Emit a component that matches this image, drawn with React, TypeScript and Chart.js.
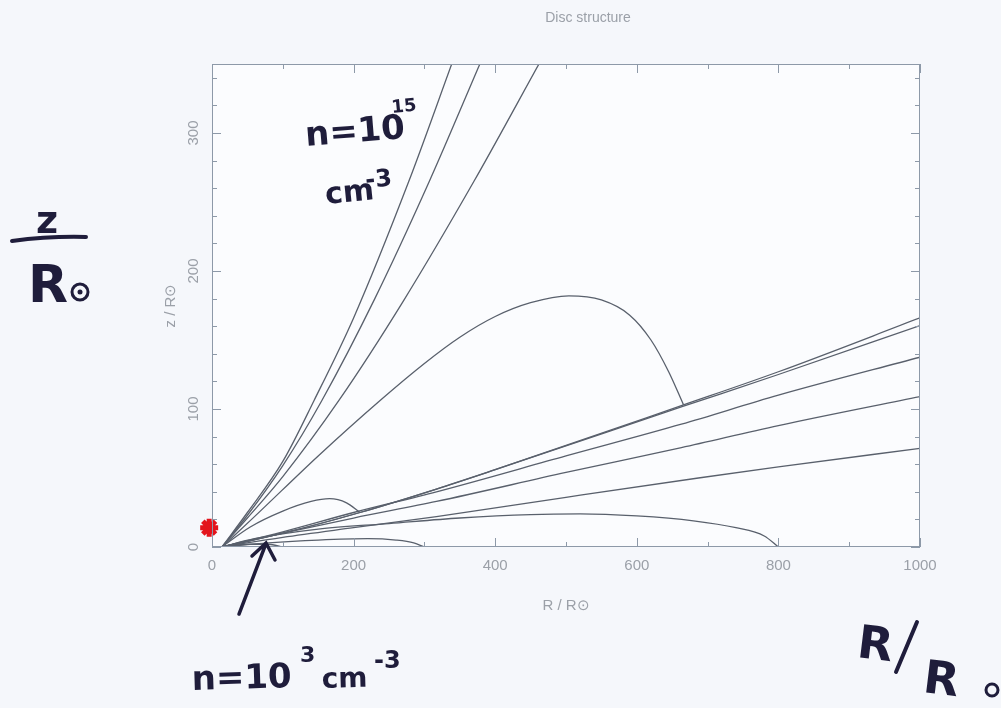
import { useEffect, useRef } from "react";
import { Chart, registerables } from "chart.js";

Chart.register(...registerables);

// ---- axis ticks ----
const xTickValues = [0, 200, 400, 600, 800, 1000];
const xMinorTicks = [100, 300, 500, 700, 900];
const yTickValues = [0, 100, 200, 300];
const yMinorTicks = [20, 40, 60, 80, 120, 140, 160, 180, 220, 240, 260, 280, 320, 340];

// ---- contour curves (R / Rsun, z / Rsun) ----
const steep1: [number, number][] = [[14, 0], [50, 25], [100, 62], [144, 106], [200, 166], [278, 265], [340, 352]];
const steep2: [number, number][] = [[14, 0], [50, 23], [100, 59], [155, 106], [230, 180], [307, 265], [380, 352]];
const steep3: [number, number][] = [[14, 0], [50, 21], [100, 51], [179, 106], [270, 178], [370, 265], [465, 353]];
const bigDome: [number, number][] = [[14, 0], [60, 22], [150, 66], [237, 106], [300, 133], [350, 152], [400, 167], [450, 177], [504, 182], [550, 179], [590, 168], [620, 150], [645, 127], [666, 103]];
const fan1: [number, number][] = [[14, 0], [100, 10], [209, 25], [317, 42], [400, 56], [666, 103], [800, 127], [1000, 166]];
const fan2: [number, number][] = [[14, 0], [100, 10], [209, 25], [317, 42], [400, 56], [666, 102], [800, 125], [1000, 160.5]];
const fan3: [number, number][] = [[14, 0], [100, 11], [200, 25], [317, 40], [500, 66], [663, 89], [800, 110], [1000, 137.5]];
const fan4: [number, number][] = [[14, 0], [100, 10], [200, 21], [317, 33], [500, 54], [663, 72], [800, 88], [1000, 109]];
const fan5: [number, number][] = [[14, 0], [100, 7], [200, 14], [317, 22], [500, 36], [687, 50], [800, 58], [1000, 71.5]];
const smallDome: [number, number][] = [[14, 0], [54, 14.5], [100, 26], [140, 33], [166, 35], [190, 32], [209, 25]];
const lowDome: [number, number][] = [[14, 0], [60, 6], [150, 13], [250, 17], [350, 21], [450, 23.5], [520, 24], [600, 22.5], [680, 19], [740, 14], [780, 8], [800, 0]];
const shallowDome: [number, number][] = [[14, 0], [80, 3], [150, 5], [220, 6], [260, 5], [285, 3], [300, 0]];
const tinyDome: [number, number][] = [[14, 0], [50, 2], [80, 2], [100, 0]];
const starPoint: [number, number][] = [[-4, 14]];

const curves = [steep1, steep2, steep3, bigDome, fan1, fan2, fan3, fan4, fan5, smallDome, lowDome, shallowDome, tinyDome];

const chartTitle = "Disc structure";
const xTitle = "R / R\u2299";
const yTitle = "z / R\u2299";

const LINE = "#59606c";
const GREY = "#9ba0a8";
const FRAME = "#8d99a8";
const INK = "#1f1d3b";
const FONT = "'Liberation Sans', Arial, sans-serif";

function toXY(arr: [number, number][]) {
  return arr.map(([x, y]) => ({ x, y }));
}

const framePlugin = {
  id: "frameAndNotes",
  beforeDraw(chart: any) {
    const { ctx, width, height, chartArea } = chart;
    ctx.save();
    ctx.fillStyle = "#f5f7fb";
    ctx.fillRect(0, 0, width, height);
    ctx.fillStyle = "#fbfcfe";
    ctx.fillRect(chartArea.left, chartArea.top, chartArea.right - chartArea.left, chartArea.bottom - chartArea.top);
    ctx.restore();
  },
  afterDraw(chart: any) {
    const { ctx, chartArea } = chart;
    const xs = chart.scales.x;
    const ys = chart.scales.y;
    const { left, right, top, bottom } = chartArea;
    ctx.save();
    // title
    ctx.fillStyle = GREY;
    ctx.font = `14px ${FONT}`;
    ctx.textAlign = "center";
    ctx.textBaseline = "middle";
    ctx.fillText(chartTitle, 588, 18);
    // frame
    ctx.strokeStyle = FRAME;
    ctx.lineWidth = 1;
    ctx.strokeRect(left + 0.5, top + 0.5, right - left - 1, bottom - top - 1);
    const tick = (v: number, len: number, horiz: boolean) => {
      if (horiz) {
        const px = Math.round(xs.getPixelForValue(v)) + 0.5;
        ctx.beginPath();
        ctx.moveTo(px, bottom);
        ctx.lineTo(px, bottom - len);
        ctx.moveTo(px, top);
        ctx.lineTo(px, top + len);
        ctx.stroke();
      } else {
        const py = Math.round(ys.getPixelForValue(v)) + 0.5;
        ctx.beginPath();
        ctx.moveTo(left, py);
        ctx.lineTo(left + len, py);
        ctx.moveTo(right, py);
        ctx.lineTo(right - len, py);
        ctx.stroke();
      }
    };
    xTickValues.forEach((v) => tick(v, 9, true));
    xMinorTicks.forEach((v) => tick(v, 5, true));
    yTickValues.forEach((v) => tick(v, 9, false));
    yMinorTicks.forEach((v) => tick(v, 5, false));
    ctx.restore();

    // handwritten annotations
    ctx.save();
    ctx.fillStyle = INK;
    ctx.strokeStyle = INK;
    ctx.textBaseline = "alphabetic";
    const txt = (s: string, x: number, y: number, size: number, rot = 0) => {
      ctx.save();
      ctx.translate(x, y);
      ctx.rotate(rot);
      ctx.font = `bold ${size}px "DejaVu Sans"`;
      ctx.fillText(s, 0, 0);
      ctx.restore();
    };
    // left: z / R_sun
    txt("z", 36, 233, 38);
    ctx.lineWidth = 4;
    ctx.lineCap = "round";
    ctx.beginPath();
    ctx.moveTo(12, 241);
    ctx.quadraticCurveTo(50, 236, 86, 237);
    ctx.stroke();
    txt("R", 28, 302, 52);
    ctx.lineWidth = 3;
    ctx.beginPath();
    ctx.arc(80, 292, 8, 0, Math.PI * 2);
    ctx.stroke();
    ctx.beginPath();
    ctx.arc(80, 292, 2.5, 0, Math.PI * 2);
    ctx.fill();
    // top: n = 10^15 cm^-3
    txt("n=10", 306, 146, 34, -0.08);
    txt("15", 392, 113, 18, -0.1);
    txt("cm", 326, 204, 30, -0.1);
    txt("-3", 366, 188, 24, -0.1);
    // bottom: n = 10^3 cm^-3
    txt("n=10", 192, 690, 34, -0.03);
    txt("3", 300, 662, 22, 0);
    txt("cm", 322, 688, 28, -0.03);
    txt("-3", 374, 668, 24, 0);
    // arrow
    ctx.lineWidth = 3.5;
    ctx.beginPath();
    ctx.moveTo(239, 614);
    ctx.lineTo(265, 546);
    ctx.moveTo(252, 556);
    ctx.lineTo(266, 543);
    ctx.lineTo(275, 560);
    ctx.stroke();
    // bottom right: R / R_sun
    txt("R", 856, 657, 46, 0.12);
    ctx.lineWidth = 4;
    ctx.beginPath();
    ctx.moveTo(917, 622);
    ctx.lineTo(896, 672);
    ctx.stroke();
    txt("R", 922, 692, 46, 0.12);
    ctx.lineWidth = 3;
    ctx.beginPath();
    ctx.arc(992, 690, 6, 0, Math.PI * 2);
    ctx.stroke();
    ctx.restore();
  },
};

export default function App() {
  const ref = useRef<HTMLCanvasElement | null>(null);
  useEffect(() => {
    if (!ref.current) return;
    const datasets: any[] = curves.map((c) => ({
      data: toXY(c),
      showLine: true,
      borderColor: LINE,
      borderWidth: 1.3,
      pointRadius: 0,
      cubicInterpolationMode: "monotone",
      fill: false,
    }));
    datasets.push({
      data: toXY(starPoint),
      showLine: false,
      pointStyle: "star",
      pointRadius: 9,
      borderColor: "#e3141c",
      backgroundColor: "#e3141c",
      pointBorderWidth: 5,
      clip: false,
    });
    const chart = new Chart(ref.current, {
      type: "scatter",
      data: { datasets },
      options: {
        animation: false,
        responsive: false,
        devicePixelRatio: 1,
        layout: { padding: { left: 140, right: 81, top: 64, bottom: 0 } },
        plugins: {
          legend: { display: false },
          tooltip: { enabled: false },
          title: { display: false },
        },
        scales: {
          x: {
            type: "linear",
            min: 0,
            max: 1000,
            afterBuildTicks: (s: any) => {
              s.ticks = xTickValues.map((v) => ({ value: v }));
            },
            afterFit: (s: any) => {
              s.height = 161;
            },
            grid: { display: false, drawTicks: false },
            border: { display: false },
            ticks: {
              color: GREY,
              padding: 10,
              callback: (v: any) => String(v),
              font: { family: FONT, size: 15 },
            },
            title: {
              display: true,
              text: xTitle,
              color: GREY,
              font: { family: FONT, size: 15 },
              padding: { top: 0, bottom: 93 },
            },
          },
          y: {
            type: "linear",
            min: 0,
            max: 350,
            afterBuildTicks: (s: any) => {
              s.ticks = yTickValues.map((v) => ({ value: v }));
            },
            afterFit: (s: any) => {
              s.width = 72;
            },
            grid: { display: false, drawTicks: false },
            border: { display: false },
            ticks: {
              color: GREY,
              padding: 6,
              minRotation: 90,
              maxRotation: 90,
              crossAlign: "center",
              callback: (v: any) => String(v),
              font: { family: FONT, size: 15 },
            },
            title: {
              display: true,
              text: yTitle,
              color: GREY,
              font: { family: FONT, size: 15 },
              padding: { top: 22, bottom: 0 },
            },
          },
        },
      } as any,
      plugins: [framePlugin],
    });
    return () => chart.destroy();
  }, []);
  return (
    <div style={{ position: "fixed", left: 0, top: 0, width: 1001, height: 708 }}>
      <canvas ref={ref} width={1001} height={708} style={{ width: 1001, height: 708, display: "block" }} />
    </div>
  );
}
